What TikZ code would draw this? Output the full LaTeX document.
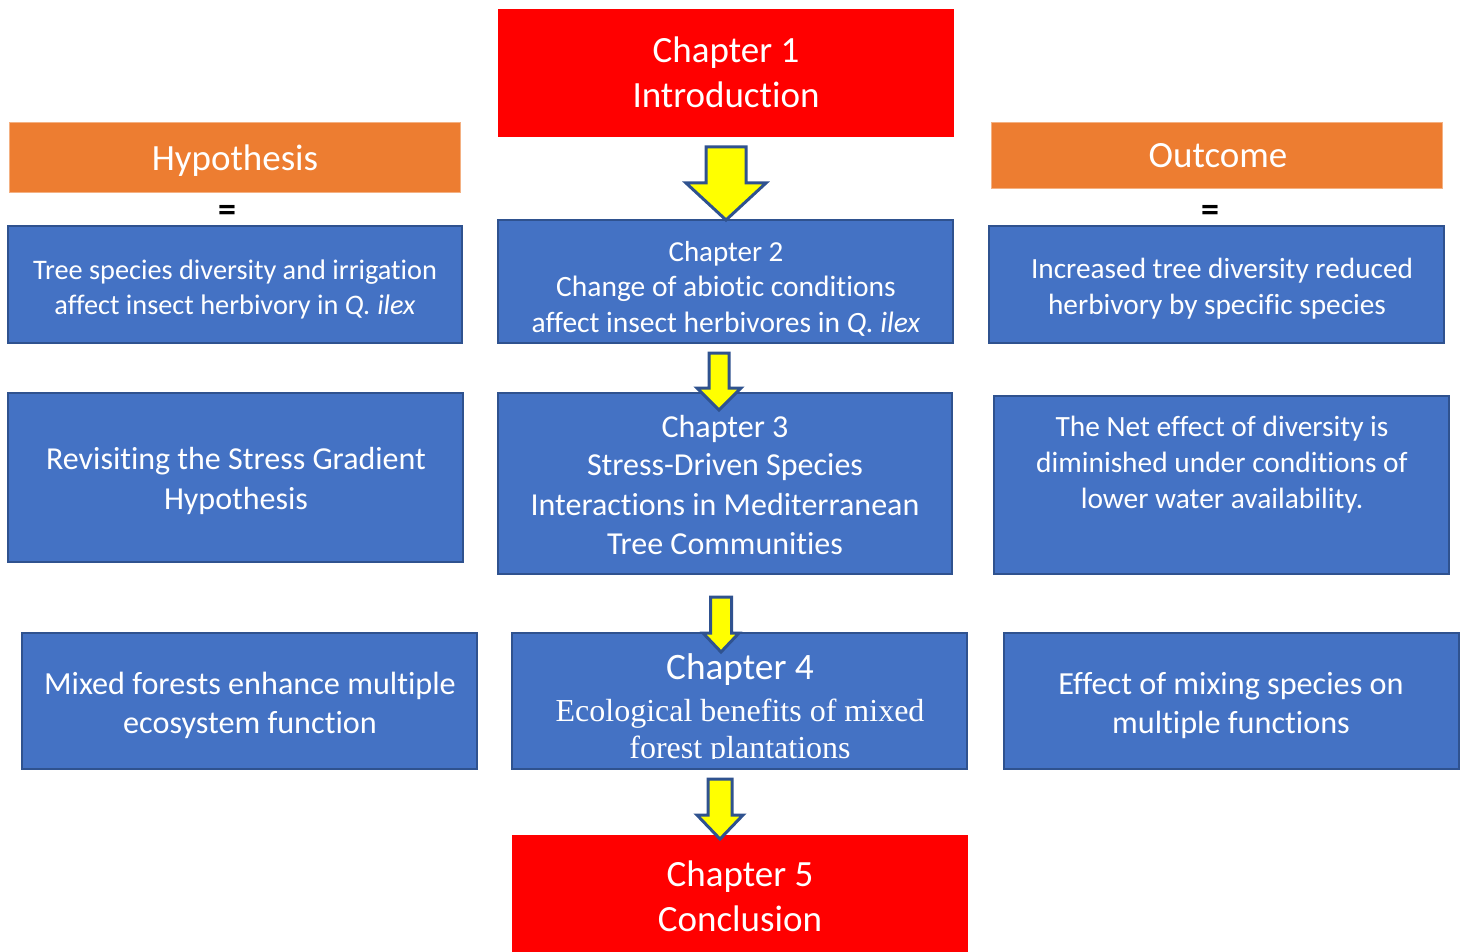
\documentclass[tikz,border=0pt]{standalone}
\usepackage{fontspec}
\setmainfont[Ligatures=NoCommon]{Carlito}
\newfontfamily\serifface{Liberation Serif}
\definecolor{bluefill}{HTML}{4472C4}
\definecolor{blueline}{HTML}{2F528F}
\definecolor{orangefill}{HTML}{ED7D31}
\definecolor{orangeline}{HTML}{F4B183}
\definecolor{redfill}{HTML}{FF0000}
\definecolor{yellowfill}{HTML}{FFFF00}
\tikzset{
  bluebox/.style={draw=blueline, fill=bluefill, line width=2.5pt, inner sep=0pt},
  orangebox/.style={draw=orangeline, fill=orangefill, line width=0.8pt, inner sep=0pt},
  redbox/.style={fill=redfill, inner sep=0pt},
  txt/.style={text=white, inner sep=0pt, text height=20pt, text depth=0pt, anchor=center},
  bigtxt/.style={text height=22pt},
  eqtxt/.style={text=black, inner sep=0pt, anchor=base, font=\bfseries\fontsize{36}{38}\selectfont},
  yarrow/.style={draw=blueline, fill=yellowfill, line width=3pt, line join=miter}
}
\newcommand{\blockarrowat}[6]{%
  \draw[yarrow] ({#1-#5},#2) -- ({#1+#5},#2) -- ({#1+#5},#3) -- ({#1+#6},#3) -- (#1,#4) -- ({#1-#6},#3) -- ({#1-#5},#3) -- cycle;}
\begin{document}
\begin{tikzpicture}[x=1pt,y=-1pt]
\useasboundingbox (0,0) rectangle (1466,952);
% boxes
\node[redbox, minimum width=456pt, minimum height=128pt] (ch1) at (726,73) {};
\node[orangebox, minimum width=451pt, minimum height=70pt] (hyp) at (234.5,157) {};
\node[orangebox, minimum width=451pt, minimum height=66pt] (out) at (1216.5,155) {};
\node[bluebox, minimum width=454pt, minimum height=117pt] (h1) at (235,284.5) {};
\node[bluebox, minimum width=455pt, minimum height=123pt] (c2) at (725.5,281.5) {};
\node[bluebox, minimum width=455pt, minimum height=117pt] (o1) at (1216.5,284.5) {};
\node[bluebox, minimum width=455pt, minimum height=169pt] (h2) at (235.5,477.5) {};
\node[bluebox, minimum width=454pt, minimum height=181pt] (c3) at (725,483.5) {};
\node[bluebox, minimum width=455pt, minimum height=178pt] (o2) at (1221.5,485) {};
\node[bluebox, minimum width=455pt, minimum height=136pt] (h3) at (249.5,701) {};
\node[bluebox, minimum width=455pt, minimum height=136pt] (c4) at (739.5,701) {};
\node[bluebox, minimum width=455pt, minimum height=136pt] (o3) at (1231.5,701) {};
\node[redbox, minimum width=456pt, minimum height=124pt] (ch5) at (740,897) {};
% texts
\begin{scope}[every node/.style={txt}]
\node[bigtxt, font=\fontsize{37}{40}\selectfont] (t1a) at (726,52) {Chapter 1};
\node[bigtxt, font=\fontsize{37}{40}\selectfont] (t1b) at (726,97) {Introduction};
\node[bigtxt, font=\fontsize{37}{40}\selectfont] (thyp) at (235,160) {Hypothesis};
\node[bigtxt, font=\fontsize{37}{40}\selectfont] (tout) at (1218,157) {Outcome};
\node[font=\fontsize{28.3}{30}\selectfont] (th1a) at (235,269) {Tree species diversity and irrigation};
\node[font=\fontsize{28.3}{30}\selectfont] (th1b) at (235,304) {affect insect herbivory in \textit{Q. ilex}};
\node[font=\fontsize{29}{30}\selectfont] (tc2a) at (726,251) {Chapter 2};
\node[font=\fontsize{29.5}{30}\selectfont] (tc2b) at (726,286) {Change of abiotic conditions};
\node[font=\fontsize{29.5}{30}\selectfont] (tc2c) at (726,322) {affect insect herbivores in \textit{Q. ilex}};
\node[font=\fontsize{29.3}{30}\selectfont] (to1a) at (1222,268) {Increased tree diversity reduced};
\node[font=\fontsize{29.3}{30}\selectfont] (to1b) at (1217,304) {herbivory by specific species};
\node[font=\fontsize{32}{34}\selectfont] (th2a) at (236,459) {Revisiting the Stress Gradient};
\node[font=\fontsize{32}{34}\selectfont] (th2b) at (236,499) {Hypothesis};
\node[font=\fontsize{32}{34}\selectfont] (tc3a) at (725,427) {Chapter 3};
\node[font=\fontsize{32}{34}\selectfont] (tc3b) at (725,465) {Stress-Driven Species};
\node[font=\fontsize{32}{34}\selectfont] (tc3c) at (725,505) {Interactions in Mediterranean};
\node[font=\fontsize{32}{34}\selectfont] (tc3d) at (725,544) {Tree Communities};
\node[font=\fontsize{29.4}{30}\selectfont] (to2a) at (1222,426) {The Net effect of diversity is};
\node[font=\fontsize{29.4}{30}\selectfont] (to2b) at (1222,462) {diminished under conditions of};
\node[font=\fontsize{29.4}{30}\selectfont] (to2c) at (1222,498) {lower water availability.};
\node[font=\fontsize{32.2}{34}\selectfont] (th3a) at (250,684) {Mixed forests enhance multiple};
\node[font=\fontsize{32.2}{34}\selectfont] (th3b) at (250,723) {ecosystem function};
\node[font=\fontsize{32.2}{34}\selectfont] (to3a) at (1231,684) {Effect of mixing species on};
\node[font=\fontsize{32.2}{34}\selectfont] (to3b) at (1231,723) {multiple functions};
\node[bigtxt, font=\fontsize{37.3}{40}\selectfont] (tc4a) at (740,668) {Chapter 4};
\begin{scope}
\clip (514,635) rectangle (965,758);
\node[font=\serifface\fontsize{32}{34}\selectfont] (tc4b) at (740,711) {Ecological benefits of mixed};
\node[font=\serifface\fontsize{32}{34}\selectfont] (tc4c) at (740,748) {forest plantations};
\end{scope}
\node[bigtxt, font=\fontsize{37}{40}\selectfont] (tc5a) at (740,875) {Chapter 5};
\node[bigtxt, font=\fontsize{37}{40}\selectfont] (tc5b) at (740,920) {Conclusion};
\end{scope}
\node[eqtxt] (eq1) at (227,221) {=};
\node[eqtxt] (eq2) at (1210,221) {=};
% arrows
\coordinate (a1) at (726,147);
\coordinate (a2) at (719,353);
\coordinate (a3) at (721,597);
\coordinate (a4) at (720,779);
\blockarrowat{726}{147}{183}{220}{20}{40}
\blockarrowat{719}{353}{388}{410}{10}{22}
\blockarrowat{721}{597}{633}{652}{10.5}{18}
\blockarrowat{720}{779}{815}{839}{12}{23}
\end{tikzpicture}
\end{document}
